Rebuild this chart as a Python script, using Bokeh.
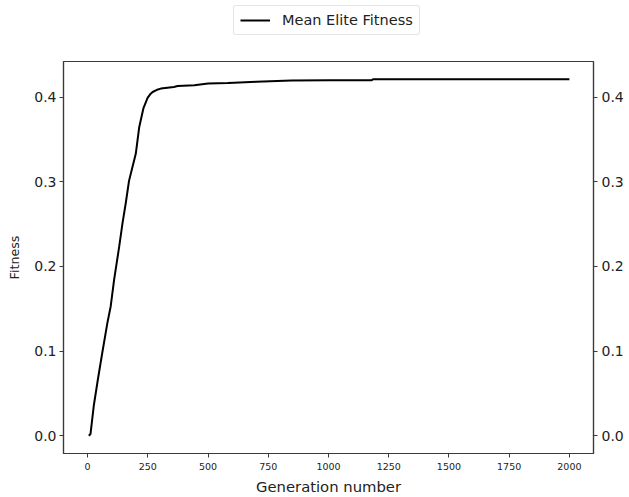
from bokeh.plotting import figure
from bokeh.layouts import column
from bokeh.models import (Range1d, LinearAxis, FixedTicker, PrintfTickFormatter,
                          Legend, LegendItem, ColumnDataSource)
from bokeh.embed import file_html
from bokeh.resources import INLINE

# Data
generation = [5, 12, 26, 43, 61, 82, 96, 110, 131, 145, 158, 172, 186, 200, 214,
              232, 249, 262, 270, 292, 304, 358, 374, 443, 500, 582, 608, 700,
              846, 1000, 1180, 1185, 1500, 1750, 2000]
fitness = [0.0, 0.002, 0.036, 0.067, 0.098, 0.133, 0.153, 0.184, 0.223, 0.251,
           0.274, 0.301, 0.317, 0.333, 0.364, 0.387, 0.399, 0.404, 0.406, 0.409,
           0.410, 0.412, 0.413, 0.414, 0.416, 0.4165, 0.417, 0.418, 0.4195,
           0.4198, 0.420, 0.421, 0.421, 0.421, 0.421]
x_ticks = [0, 250, 500, 750, 1000, 1250, 1500, 1750, 2000]
y_ticks = [0.0, 0.1, 0.2, 0.3, 0.4]
series_name = "Mean Elite Fitness"

FONT = "DejaVu Sans"
AX = "#3a3a3a"
TXT = "#222222"
W = 629
LEG_H = 57
MAIN_H = 440

src = ColumnDataSource(dict(g=generation, f=fitness))

p = figure(width=W, height=MAIN_H, output_backend="svg", toolbar_location=None,
           x_range=Range1d(-100, 2100), y_range=Range1d(-0.021, 0.442),
           min_border_left=63, min_border_right=36, min_border_top=4,
           min_border_bottom=42)
p.background_fill_color = "white"
p.border_fill_color = "white"
p.outline_line_color = AX
p.outline_line_width = 1.2
p.xgrid.visible = False
p.ygrid.visible = False

r = p.line("g", "f", source=src, line_color="black", line_width=2)

def style(ax, size):
    ax.axis_line_color = AX
    ax.axis_line_width = 1.2
    ax.major_tick_line_color = AX
    ax.major_tick_out = 4
    ax.major_tick_in = 0
    ax.minor_tick_line_color = None
    ax.major_label_text_font = FONT
    ax.major_label_text_font_size = size
    ax.major_label_text_color = TXT
    ax.axis_label_text_font = FONT
    ax.axis_label_text_font_style = "normal"
    ax.axis_label_text_color = TXT

xa = p.xaxis[0]
xa.ticker = FixedTicker(ticks=x_ticks)
xa.axis_label = "Generation number"
style(xa, "9.5px")
xa.axis_label_text_font_size = "14.8px"
xa.major_label_standoff = 5
xa.axis_label_standoff = 5

ya = p.yaxis[0]
ya.ticker = FixedTicker(ticks=y_ticks)
ya.formatter = PrintfTickFormatter(format="%.1f")
ya.axis_label = "Fitness"
style(ya, "14px")
ya.axis_label_text_font_size = "12.7px"
ya.major_label_standoff = 3
ya.axis_label_standoff = 9

yr = LinearAxis(ticker=FixedTicker(ticks=y_ticks),
                formatter=PrintfTickFormatter(format="%.1f"))
style(yr, "14px")
yr.major_label_standoff = 4
p.add_layout(yr, "right")

# Legend strip above the plot
pl = figure(width=W, height=LEG_H, output_backend="svg", toolbar_location=None,
            x_range=Range1d(0, 1), y_range=Range1d(0, 1),
            min_border_left=63, min_border_right=36, min_border_top=0,
            min_border_bottom=0)
pl.axis.visible = False
pl.grid.visible = False
pl.outline_line_color = None
pl.background_fill_color = "white"
pl.border_fill_color = "white"
# single-point line: draws nothing in the strip, only supplies the legend glyph
r_leg = pl.line(x=generation[:1], y=fitness[:1], line_color="black", line_width=2)

legend = Legend(items=[LegendItem(label=series_name, renderers=[r_leg])],
                location=(170, LEG_H - 35), orientation="horizontal",
                label_text_font=FONT, label_text_font_size="14.5px",
                label_text_color=TXT,
                glyph_width=30, glyph_height=16, label_height=16,
                label_standoff=12, padding=6, spacing=0, margin=0,
                border_line_color="#cccccc", border_line_width=1,
                border_radius=3, background_fill_alpha=1.0)
pl.add_layout(legend)

layout = column(pl, p, spacing=0)
open("out.html", "w").write(file_html(layout, INLINE))
